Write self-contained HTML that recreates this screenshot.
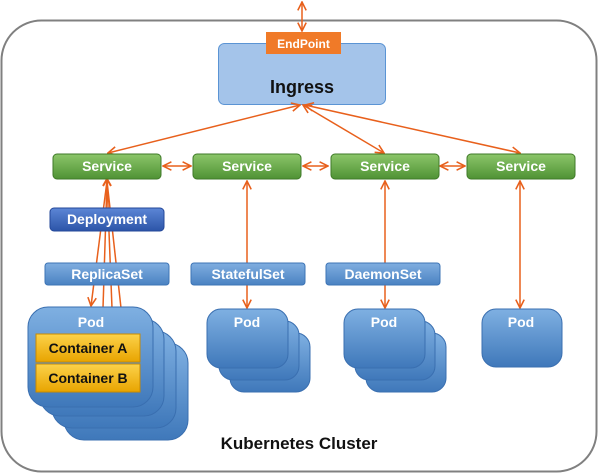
<!DOCTYPE html>
<html><head><meta charset="utf-8"><style>
body{margin:0;background:#fff;}
svg{display:block;font-family:"Liberation Sans","DejaVu Sans",sans-serif;font-weight:bold;}
</style></head><body>
<svg width="600" height="474" viewBox="0 0 600 474" xmlns="http://www.w3.org/2000/svg">
<defs>
<linearGradient id="g" x1="0" y1="0" x2="0" y2="1"><stop offset="0" stop-color="#8cc66a"/><stop offset="1" stop-color="#4f9234"/></linearGradient>
<linearGradient id="bl" x1="0" y1="0" x2="0" y2="1"><stop offset="0" stop-color="#80aee0"/><stop offset="1" stop-color="#4a82c2"/></linearGradient>
<linearGradient id="db" x1="0" y1="0" x2="0" y2="1"><stop offset="0" stop-color="#5c86d6"/><stop offset="1" stop-color="#2c55a8"/></linearGradient>
<linearGradient id="pod" x1="0" y1="0" x2="0" y2="1"><stop offset="0" stop-color="#7fb0e2"/><stop offset="1" stop-color="#3f78ba"/></linearGradient>
<linearGradient id="y" x1="0" y1="0" x2="0" y2="1"><stop offset="0" stop-color="#fcd24a"/><stop offset="1" stop-color="#e8a400"/></linearGradient>
<marker id="a" viewBox="0 0 10 10" refX="9" refY="5" markerWidth="7" markerHeight="7" orient="auto-start-reverse"><path d="M1,1 L9,5 L1,9" fill="none" stroke="#e8601c" stroke-width="1.5"/></marker>
</defs>
<rect x="1.5" y="20.5" width="595" height="451" rx="40" fill="#fff" stroke="#808080" stroke-width="2"/>
<rect x="218.5" y="43.5" width="167" height="61" rx="6" fill="#a4c4ea" stroke="#5b94d4"/>
<rect x="266" y="32" width="75" height="22" fill="#f07a28"/>
<text x="303.5" y="48" font-size="12" fill="#fff" text-anchor="middle">EndPoint</text>
<text x="302" y="93" font-size="18" fill="#111" text-anchor="middle">Ingress</text>
<g stroke="#e8601c" stroke-width="1.5" fill="none">
<line x1="302" y1="2" x2="302" y2="31" marker-start="url(#a)" marker-end="url(#a)"/>
<line x1="300" y1="105" x2="108" y2="153" marker-start="url(#a)" marker-end="url(#a)"/>
<line x1="303" y1="105" x2="384" y2="153" marker-start="url(#a)" marker-end="url(#a)"/>
<line x1="305" y1="105" x2="520" y2="153" marker-start="url(#a)" marker-end="url(#a)"/>
<line x1="163" y1="166" x2="191" y2="166" marker-start="url(#a)" marker-end="url(#a)"/>
<line x1="303" y1="166" x2="328" y2="166" marker-start="url(#a)" marker-end="url(#a)"/>
<line x1="440" y1="166" x2="465" y2="166" marker-start="url(#a)" marker-end="url(#a)"/>
<line x1="247" y1="308" x2="247" y2="181" marker-start="url(#a)" marker-end="url(#a)"/>
<line x1="385" y1="308" x2="385" y2="181" marker-start="url(#a)" marker-end="url(#a)"/>
<line x1="520" y1="181" x2="520" y2="308" marker-start="url(#a)" marker-end="url(#a)"/>
<line x1="107" y1="181" x2="91" y2="306" marker-end="url(#a)"/>
<line x1="107" y1="181" x2="103" y2="308"/>
<line x1="107" y1="181" x2="112" y2="308"/>
<line x1="107" y1="181" x2="121" y2="308"/>
<path d="M103,186 L107,179 L111,186" stroke-width="2"/>
</g>
<g font-size="14" fill="#fff" text-anchor="middle">
<rect x="53" y="154" width="108" height="25" rx="4" fill="url(#g)" stroke="#3f7a28"/>
<rect x="193" y="154" width="108" height="25" rx="4" fill="url(#g)" stroke="#3f7a28"/>
<rect x="331" y="154" width="108" height="25" rx="4" fill="url(#g)" stroke="#3f7a28"/>
<rect x="467" y="154" width="108" height="25" rx="4" fill="url(#g)" stroke="#3f7a28"/>
<text x="107" y="171">Service</text><text x="247" y="171">Service</text><text x="385" y="171">Service</text><text x="521" y="171">Service</text>
<rect x="50" y="208" width="114" height="23" rx="4" fill="url(#db)" stroke="#24489a"/>
<text x="107" y="224">Deployment</text>
<rect x="45" y="263" width="124" height="22" rx="3" fill="url(#bl)" stroke="#3d74b6"/>
<rect x="191" y="263" width="114" height="22" rx="3" fill="url(#bl)" stroke="#3d74b6"/>
<rect x="326" y="263" width="114" height="22" rx="3" fill="url(#bl)" stroke="#3d74b6"/>
<text x="107" y="279">ReplicaSet</text><text x="248" y="279">StatefulSet</text><text x="383" y="279">DaemonSet</text>
</g>
<g fill="url(#pod)" stroke="#3a6fb0">
<rect x="64" y="343" width="124" height="97" rx="20"/>
<rect x="52" y="331" width="124" height="97" rx="20"/>
<rect x="40" y="319" width="124" height="97" rx="20"/>
<rect x="28" y="307" width="125" height="100" rx="20"/>
<rect x="230" y="333" width="80" height="59" rx="14"/>
<rect x="219" y="321" width="80" height="59" rx="14"/>
<rect x="207" y="309" width="81" height="59" rx="14"/>
<rect x="366" y="333" width="80" height="59" rx="14"/>
<rect x="355" y="321" width="80" height="59" rx="14"/>
<rect x="344" y="309" width="81" height="59" rx="14"/>
<rect x="482" y="309" width="80" height="58" rx="14"/>
</g>
<g font-size="14" fill="#fff" text-anchor="middle">
<text x="91" y="327">Pod</text><text x="247" y="327">Pod</text><text x="384" y="327">Pod</text><text x="521" y="327">Pod</text>
</g>
<rect x="36" y="334" width="104" height="28" fill="url(#y)" stroke="#c98a00"/>
<rect x="36" y="364" width="104" height="28" fill="url(#y)" stroke="#c98a00"/>
<g font-size="14" fill="#111" text-anchor="middle">
<text x="88" y="353">Container A</text><text x="88" y="383">Container B</text>
</g>
<text x="299" y="449" font-size="17" fill="#111" text-anchor="middle">Kubernetes Cluster</text>
</svg>
</body></html>
